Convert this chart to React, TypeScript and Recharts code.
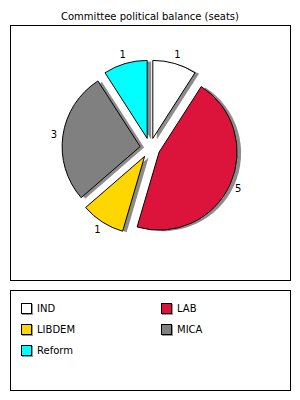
import { PieChart, Pie, Cell, Sector, Legend } from 'recharts'

const PARTIES = ['IND', 'LAB', 'LIBDEM', 'MICA', 'Reform']
const SEATS = [1, 5, 1, 3, 1]
const COLORS = ['#ffffff', '#dc143c', '#ffd700', '#808080', '#00ffff']

const data = PARTIES.map((name, i) => ({ name, seats: SEATS[i] }))

const RAD = Math.PI / 180
const EXPLODE = 10
const FONT = '"DejaVu Sans", sans-serif'

// push each slice out from the centre along its mid angle
const offsetOf = (midAngle: number) => ({
  dx: EXPLODE * Math.cos(-midAngle * RAD),
  dy: EXPLODE * Math.sin(-midAngle * RAD),
})

const renderSlice = (props: any) => {
  const { dx, dy } = offsetOf(props.midAngle)
  return (
    <Sector
      {...props}
      cx={props.cx + dx}
      cy={props.cy + dy}
      stroke="#000"
      strokeWidth={1}
    />
  )
}

const renderShadow = (props: any) => {
  const { dx, dy } = offsetOf(props.midAngle)
  return (
    <Sector
      {...props}
      cx={props.cx + dx + 4}
      cy={props.cy + dy + 1}
      fill="#8c8c8c"
      stroke="none"
    />
  )
}

const renderLabel = (props: any) => {
  const r = props.outerRadius + 19
  const x = props.cx + r * Math.cos(-props.midAngle * RAD)
  const y = props.cy + r * Math.sin(-props.midAngle * RAD)
  return (
    <text
      x={x}
      y={y}
      textAnchor="middle"
      dominantBaseline="central"
      fontFamily={FONT}
      fontSize={10}
      fill="#000"
    >
      {props.value}
    </text>
  )
}

const renderLegend = (props: any) => {
  const items = (props.payload || []).filter((p: any) => p.type !== 'none')
  return (
    <div
      style={{
        position: 'relative',
        width: 281,
        height: 101,
        border: '1px solid #000',
        boxSizing: 'border-box',
        fontFamily: FONT,
        fontSize: 10,
      }}
    >
      {items.map((p: any, i: number) => (
        <div
          key={p.value}
          style={{
            position: 'absolute',
            left: (i % 2) * 140 + 10,
            top: Math.floor(i / 2) * 21 + 11,
            display: 'flex',
            alignItems: 'center',
            height: 12,
          }}
        >
          <span
            style={{
              width: 11,
              height: 11,
              boxSizing: 'border-box',
              border: '1px solid #000',
              background: p.color,
              boxShadow: '1px 1px 0 #999',
              marginRight: 5,
            }}
          />
          <span style={{ color: '#000' }}>{p.value}</span>
        </div>
      ))}
    </div>
  )
}

export default function App() {
  return (
    <div
      style={{
        position: 'absolute',
        left: 0,
        top: 0,
        width: 300,
        height: 400,
        background: '#fff',
      }}
    >
      <div
        style={{
          position: 'absolute',
          top: 11,
          width: 300,
          textAlign: 'center',
          fontFamily: FONT,
          fontSize: 10,
          lineHeight: '12px',
          color: '#000',
        }}
      >
        Committee political balance (seats)
      </div>
      <div
        style={{
          position: 'absolute',
          left: 10,
          top: 25,
          width: 281,
          height: 256,
          border: '1px solid #000',
          boxSizing: 'border-box',
        }}
      />
      <div style={{ position: 'absolute', left: 0, top: 0 }}>
        <PieChart
          width={300}
          height={400}
          margin={{ top: 0, right: 0, bottom: 0, left: 0 }}
        >
          <Pie
            data={data}
            dataKey="seats"
            nameKey="name"
            cx={150}
            cy={148}
            outerRadius={78}
            startAngle={90}
            endAngle={-270}
            shape={renderShadow}
            legendType="none"
            label={false}
            labelLine={false}
            isAnimationActive={false}
          >
            {data.map((d) => (
              <Cell key={d.name} fill="#8c8c8c" />
            ))}
          </Pie>
          <Pie
            data={data}
            dataKey="seats"
            nameKey="name"
            cx={150}
            cy={148}
            outerRadius={78}
            startAngle={90}
            endAngle={-270}
            shape={renderSlice}
            label={renderLabel}
            labelLine={false}
            legendType="square"
            isAnimationActive={false}
          >
            {data.map((d, i) => (
              <Cell key={d.name} fill={COLORS[i]} />
            ))}
          </Pie>
          <Legend
            content={renderLegend}
            wrapperStyle={{ left: 10, top: 290, width: 281, height: 101, bottom: 'auto' }}
          />
        </PieChart>
      </div>
    </div>
  )
}
